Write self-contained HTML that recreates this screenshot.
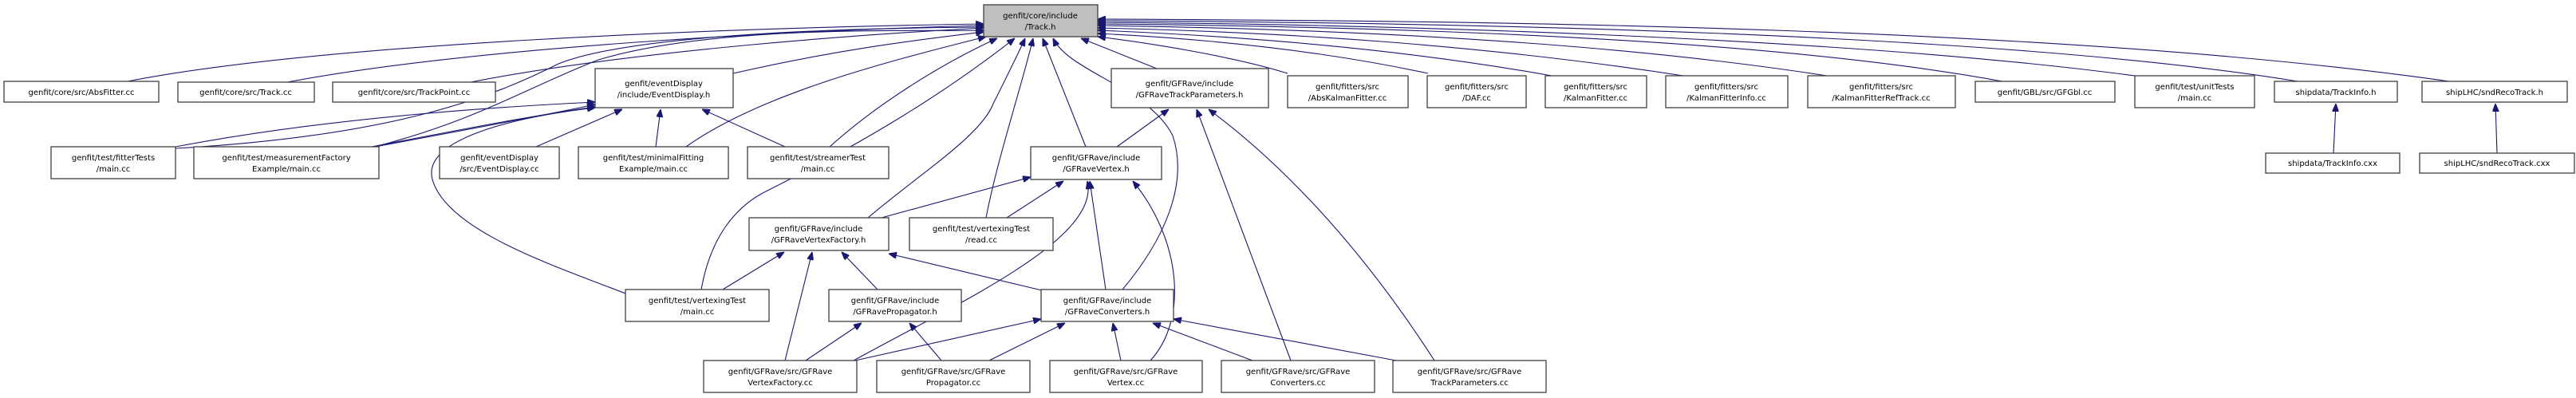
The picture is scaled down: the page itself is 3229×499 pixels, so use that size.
<!DOCTYPE html>
<html><head><meta charset="utf-8"><style>
html,body{margin:0;padding:0;background:#fff;}
svg{display:block;}
text{font-family:"DejaVu Sans","Liberation Sans",sans-serif;font-size:10px;fill:#000;text-anchor:middle;}
rect{fill:#fff;stroke:#404040;stroke-width:1.3;}
path{fill:none;stroke:#191970;stroke-width:1.1;}
</style></head><body>
<svg width="3229" height="499" viewBox="0 0 3229 499" xmlns="http://www.w3.org/2000/svg">
<defs>
<marker id="a" viewBox="0 0 10 8" refX="10" refY="4" markerWidth="10" markerHeight="8" markerUnits="userSpaceOnUse" orient="auto">
<path d="M0,0 L10,4 L0,8 z" style="fill:#191970;stroke:#191970"/>
</marker>
</defs>
<g marker-end="url(#a)">
<path d="M160,102 C400,55 900,35 1233,30"/>
<path d="M360,103 C600,58 1000,38 1233,32"/>
<path d="M590,103 C800,62 1100,42 1233,35"/>
<path d="M919,92 C1050,62 1150,50 1233,40"/>
<path d="M220,186 C500,170 620,120 700,80 C800,40 1100,35 1233,34"/>
<path d="M470,184 C600,150 660,110 750,75 C900,30 1150,40 1233,38"/>
<path d="M860,184 C950,120 1100,80 1236,46"/>
<path d="M1040,184 C1100,130 1180,80 1250,48"/>
<path d="M879,363 C890,300 920,260 960,240 C1080,180 1180,120 1272,48"/>
<path d="M1088,273 C1150,220 1230,170 1245,130 C1260,100 1275,70 1285,48"/>
<path d="M1236,273 C1250,200 1280,110 1295,48"/>
<path d="M1361,184 L1307,48"/>
<path d="M1407,363 C1460,300 1490,230 1470,170 C1440,110 1340,90 1320,48"/>
<path d="M1450,86 L1355,48"/>
<path d="M1614,92 C1550,72 1450,55 1376,46"/>
<path d="M1790,92 C1650,62 1500,48 1376,42"/>
<path d="M1945,95 C1750,60 1550,45 1376,38"/>
<path d="M2110,95 C1850,55 1600,40 1376,35"/>
<path d="M2290,95 C2000,50 1650,36 1376,32"/>
<path d="M2510,102 C2200,45 1700,33 1376,30"/>
<path d="M2676,95 C2300,45 1700,30 1376,28"/>
<path d="M2880,102 C2500,40 1800,28 1376,26"/>
<path d="M3070,102 C2600,35 1900,26 1376,24"/>
<path d="M220,184 C400,150 600,135 746,128"/>
<path d="M470,184 C600,160 680,145 746,131"/>
<path d="M466,184 C600,158 680,143 746,134"/>
<path d="M672,184 L780,137"/>
<path d="M822,184 L828,137"/>
<path d="M984,184 L880,137"/>
<path d="M784,368 C700,335 560,290 542,225 C530,180 620,150 746,135"/>
<path d="M1400,184 L1465,137"/>
<path d="M1618,452 L1500,137"/>
<path d="M1798,452 C1700,300 1600,200 1515,137"/>
<path d="M1105,273 L1292,222"/>
<path d="M1262,273 L1333,227"/>
<path d="M1386,363 L1366,227"/>
<path d="M1070,452 C1200,380 1380,300 1363,227"/>
<path d="M1442,452 C1490,400 1480,300 1420,227"/>
<path d="M906,363 L983,316"/>
<path d="M984,452 L1018,316"/>
<path d="M1100,363 L1055,316"/>
<path d="M1310,365 L1114,318"/>
<path d="M1010,452 L1080,405"/>
<path d="M1180,452 L1140,405"/>
<path d="M1072,452 L1305,400"/>
<path d="M1240,452 L1335,405"/>
<path d="M1405,452 L1395,405"/>
<path d="M1570,452 L1445,405"/>
<path d="M1750,452 L1471,400"/>
<path d="M2925,192 L2928,130"/>
<path d="M3130,192 L3128,130"/>
</g>

<rect x="1233" y="6" width="143" height="40" style="fill:#bfbfbf"/>
<text x="1304" y="23">genfit/core/include</text><text x="1304" y="37">/Track.h</text>

<rect x="5" y="102" width="194" height="26"/><text x="102" y="119">genfit/core/src/AbsFitter.cc</text>
<rect x="223" y="103" width="171" height="25"/><text x="308" y="119">genfit/core/src/Track.cc</text>
<rect x="417" y="103" width="204" height="25"/><text x="519" y="119">genfit/core/src/TrackPoint.cc</text>
<rect x="746" y="86" width="173" height="49"/><text x="832" y="108">genfit/eventDisplay</text><text x="832" y="122">/include/EventDisplay.h</text>
<rect x="1393" y="86" width="197" height="49"/><text x="1491" y="108">genfit/GFRave/include</text><text x="1491" y="122">/GFRaveTrackParameters.h</text>
<rect x="1614" y="95" width="151" height="40"/><text x="1689" y="112">genfit/fitters/src</text><text x="1689" y="126">/AbsKalmanFitter.cc</text>
<rect x="1789" y="95" width="124" height="40"/><text x="1851" y="112">genfit/fitters/src</text><text x="1851" y="126">/DAF.cc</text>
<rect x="1937" y="95" width="127" height="40"/><text x="2000" y="112">genfit/fitters/src</text><text x="2000" y="126">/KalmanFitter.cc</text>
<rect x="2088" y="95" width="153" height="40"/><text x="2164" y="112">genfit/fitters/src</text><text x="2164" y="126">/KalmanFitterInfo.cc</text>
<rect x="2266" y="95" width="185" height="40"/><text x="2358" y="112">genfit/fitters/src</text><text x="2358" y="126">/KalmanFitterRefTrack.cc</text>
<rect x="2476" y="102" width="175" height="26"/><text x="2563" y="119">genfit/GBL/src/GFGbl.cc</text>
<rect x="2676" y="95" width="150" height="40"/><text x="2751" y="112">genfit/test/unitTests</text><text x="2751" y="126">/main.cc</text>
<rect x="2851" y="102" width="154" height="26"/><text x="2928" y="119">shipdata/TrackInfo.h</text>
<rect x="3036" y="102" width="182" height="26"/><text x="3127" y="119">shipLHC/sndRecoTrack.h</text>

<rect x="64" y="184" width="156" height="40"/><text x="142" y="201">genfit/test/fitterTests</text><text x="142" y="215">/main.cc</text>
<rect x="243" y="184" width="232" height="40"/><text x="359" y="201">genfit/test/measurementFactory</text><text x="359" y="215">Example/main.cc</text>
<rect x="551" y="184" width="150" height="40"/><text x="626" y="201">genfit/eventDisplay</text><text x="626" y="215">/src/EventDisplay.cc</text>
<rect x="725" y="184" width="188" height="40"/><text x="819" y="201">genfit/test/minimalFitting</text><text x="819" y="215">Example/main.cc</text>
<rect x="937" y="184" width="177" height="40"/><text x="1025" y="201">genfit/test/streamerTest</text><text x="1025" y="215">/main.cc</text>
<rect x="1292" y="184" width="164" height="41"/><text x="1374" y="201">genfit/GFRave/include</text><text x="1374" y="215">/GFRaveVertex.h</text>
<rect x="2840" y="192" width="168" height="25"/><text x="2924" y="208">shipdata/TrackInfo.cxx</text>
<rect x="3033" y="192" width="194" height="25"/><text x="3130" y="208">shipLHC/sndRecoTrack.cxx</text>

<rect x="939" y="273" width="175" height="41"/><text x="1026" y="290">genfit/GFRave/include</text><text x="1026" y="304">/GFRaveVertexFactory.h</text>
<rect x="1140" y="273" width="180" height="41"/><text x="1230" y="290">genfit/test/vertexingTest</text><text x="1230" y="304">/read.cc</text>

<rect x="784" y="363" width="180" height="40"/><text x="874" y="380">genfit/test/vertexingTest</text><text x="874" y="394">/main.cc</text>
<rect x="1039" y="363" width="166" height="40"/><text x="1122" y="380">genfit/GFRave/include</text><text x="1122" y="394">/GFRavePropagator.h</text>
<rect x="1305" y="363" width="166" height="40"/><text x="1388" y="380">genfit/GFRave/include</text><text x="1388" y="394">/GFRaveConverters.h</text>

<rect x="882" y="452" width="192" height="40"/><text x="978" y="469">genfit/GFRave/src/GFRave</text><text x="978" y="483">VertexFactory.cc</text>
<rect x="1099" y="452" width="192" height="40"/><text x="1195" y="469">genfit/GFRave/src/GFRave</text><text x="1195" y="483">Propagator.cc</text>
<rect x="1316" y="452" width="191" height="40"/><text x="1411" y="469">genfit/GFRave/src/GFRave</text><text x="1411" y="483">Vertex.cc</text>
<rect x="1531" y="452" width="192" height="40"/><text x="1627" y="469">genfit/GFRave/src/GFRave</text><text x="1627" y="483">Converters.cc</text>
<rect x="1746" y="452" width="192" height="40"/><text x="1842" y="469">genfit/GFRave/src/GFRave</text><text x="1842" y="483">TrackParameters.cc</text>
</svg>
</body></html>
